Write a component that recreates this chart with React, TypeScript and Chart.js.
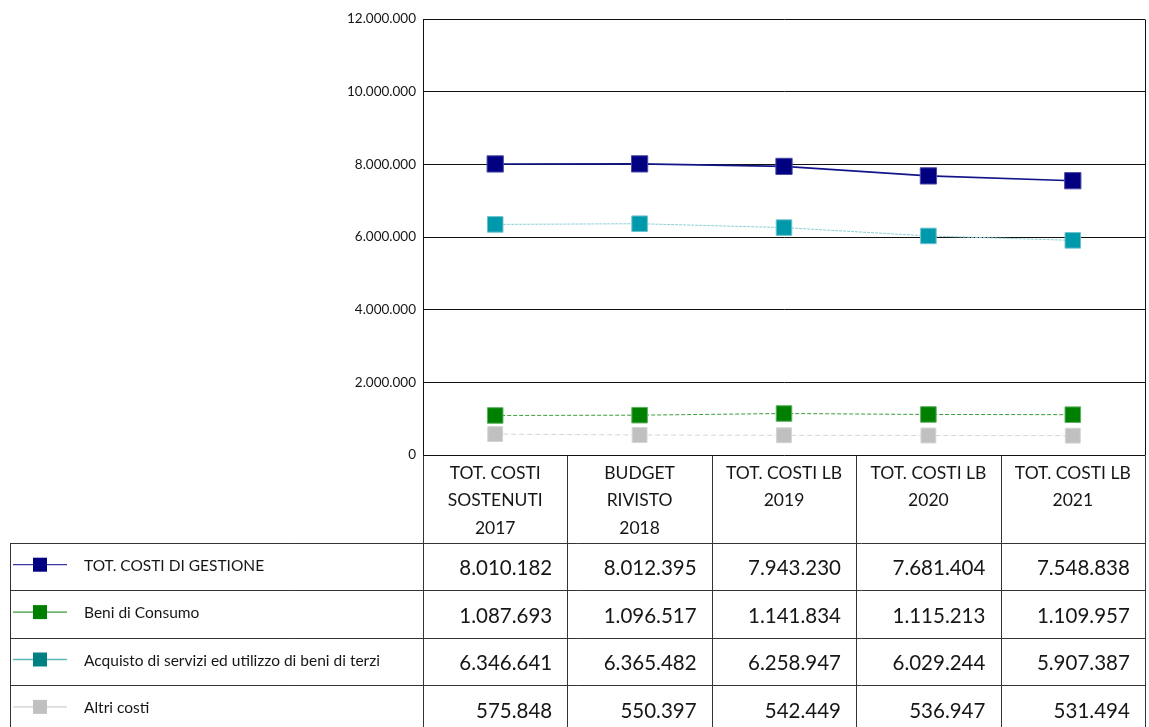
import React, { useEffect, useRef } from "react";
import { Chart, registerables } from "chart.js";

Chart.register(...registerables);

const categories: string[][] = [
  ["TOT. COSTI", "SOSTENUTI", "2017"],
  ["BUDGET", "RIVISTO", "2018"],
  ["TOT. COSTI LB", "2019"],
  ["TOT. COSTI LB", "2020"],
  ["TOT. COSTI LB", "2021"],
];
const seriesNames = [
  "TOT. COSTI DI GESTIONE",
  "Beni di Consumo",
  "Acquisto di servizi ed utilizzo di beni di terzi",
  "Altri costi",
];
const totCostiGestione = [8010182, 8012395, 7943230, 7681404, 7548838];
const beniDiConsumo = [1087693, 1096517, 1141834, 1115213, 1109957];
const acquistoServizi = [6346641, 6365482, 6258947, 6029244, 5907387];
const altriCosti = [575848, 550397, 542449, 536947, 531494];
const yMin = 0;
const yMax = 12000000;
const yStep = 2000000;

const fmt = (v: number) =>
  String(Math.round(v)).replace(/\B(?=(\d{3})+(?!\d))/g, ".");

const FONT = "Lato";
const INK = "#161616";

const legendColors = ["#000080", "#008000", "#008080", "#c0c0c0"];
const legendLineColors = ["#3a3aa8", "#3a9a3a", "#5fb8b8", "#cfcfcf"];

const tablePlugin = {
  id: "tablePlugin",
  afterDraw(chart: any) {
    const { ctx, chartArea, scales } = chart;
    const x = scales.x;
    const H = chart.height;
    const px = categories.map((_, i) => x.getPixelForValue(i));
    const bounds = [
      chartArea.left,
      ...px.slice(0, -1).map((p: number, i: number) => (p + px[i + 1]) / 2),
      chartArea.right,
    ];
    const headerTop = chartArea.bottom;
    const headerH = 88;
    const rowH = 47.4;
    const tableLeft = 10;
    const al = (v: number) => Math.round(v) + 0.5;

    ctx.save();
    ctx.strokeStyle = "#111";
    ctx.lineWidth = 1;
    ctx.beginPath();
    ctx.moveTo(al(chartArea.right), al(chartArea.top));
    ctx.lineTo(al(chartArea.right), al(chartArea.bottom));
    ctx.stroke();

    ctx.strokeStyle = "#333";
    ctx.beginPath();
    bounds.forEach((b: number) => {
      ctx.moveTo(al(b), al(headerTop));
      ctx.lineTo(al(b), H);
    });
    const bodyTop = headerTop + headerH;
    for (let k = 0; k < seriesNames.length; k++) {
      const yy = al(bodyTop + k * rowH);
      ctx.moveTo(tableLeft, yy);
      ctx.lineTo(al(chartArea.right), yy);
    }
    ctx.moveTo(al(tableLeft), al(bodyTop));
    ctx.lineTo(al(tableLeft), H);
    ctx.stroke();

    ctx.fillStyle = INK;
    ctx.textAlign = "center";
    ctx.textBaseline = "middle";
    ctx.font = `17.5px ${FONT}`;
    categories.forEach((lines, i) => {
      lines.forEach((ln, j) => {
        ctx.fillText(ln, px[i], headerTop + 18 + j * 27.5);
      });
    });

    chart.data.datasets.forEach((ds: any, d: number) => {
      const top = bodyTop + d * rowH;
      const cy = top + rowH / 2;
      ctx.strokeStyle = legendLineColors[d];
      ctx.lineWidth = 1.3;
      ctx.beginPath();
      ctx.moveTo(13, cy - 2);
      ctx.lineTo(67, cy - 2);
      ctx.stroke();
      ctx.fillStyle = legendColors[d];
      ctx.fillRect(33, cy - 9, 14, 14);
      ctx.fillStyle = INK;
      ctx.textAlign = "left";
      ctx.font = `15.5px ${FONT}`;
      ctx.fillText(seriesNames[d], 84, cy - 1);
      ctx.textAlign = "right";
      ctx.font = `20.5px ${FONT}`;
      ds.data.forEach((v: number, i: number) => {
        ctx.fillText(fmt(v), px[i] + 57, cy + 2);
      });
    });
    ctx.restore();
  },
};

export default function App() {
  const ref = useRef<HTMLCanvasElement | null>(null);
  useEffect(() => {
    if (!ref.current) return;
    const chart = new Chart(ref.current, {
      type: "line",
      data: {
        labels: categories.map((c) => c.join(" ")),
        datasets: [
          {
            label: seriesNames[0],
            data: totCostiGestione,
            borderColor: "#14148a",
            borderWidth: 1.6,
            pointStyle: "rect",
            pointRadius: 11.5,
            pointBackgroundColor: "#000080",
            pointBorderColor: "#4a4aa8",
            pointBorderWidth: 1,
          },
          {
            label: seriesNames[1],
            data: beniDiConsumo,
            borderColor: "#3c9a3c",
            borderWidth: 1,
            borderDash: [4, 2],
            pointStyle: "rect",
            pointRadius: 11,
            pointBackgroundColor: "#008000",
            pointBorderColor: "#5fb05f",
            pointBorderWidth: 1,
          },
          {
            label: seriesNames[2],
            data: acquistoServizi,
            borderColor: "#8ccfd6",
            borderWidth: 1,
            borderDash: [3, 1],
            pointStyle: "rect",
            pointRadius: 11,
            pointBackgroundColor: "#0099ab",
            pointBorderColor: "#6cc2cc",
            pointBorderWidth: 1,
          },
          {
            label: seriesNames[3],
            data: altriCosti,
            borderColor: "#d4d4d4",
            borderWidth: 1,
            borderDash: [5, 3],
            pointStyle: "rect",
            pointRadius: 10.5,
            pointBackgroundColor: "#c0c0c0",
            pointBorderColor: "#d4d4d4",
            pointBorderWidth: 1,
          },
        ],
      },
      options: {
        animation: false,
        responsive: false,
        devicePixelRatio: 1,
        layout: { autoPadding: false, padding: { top: 19, right: 4, bottom: 272, left: 0 } },
        plugins: {
          legend: { display: false },
          tooltip: { enabled: false },
        },
        scales: {
          x: {
            type: "category",
            display: false,
            offset: true,
          },
          y: {
            min: yMin,
            max: yMax,
            ticks: {
              stepSize: yStep,
              padding: 7,
              color: INK,
              font: { family: FONT, size: 13.5 },
              callback: (v: any) => fmt(Number(v)),
            },
            grid: { color: "#111", lineWidth: 1, drawTicks: false },
            border: { display: true, color: "#111", width: 1 },
            afterFit: (scale: any) => {
              scale.width = 423;
            },
          },
        },
      },
      plugins: [tablePlugin],
    });
    return () => chart.destroy();
  }, []);
  return (
    <div style={{ position: "fixed", left: 0, top: 0, width: 1149, height: 727, background: "#fff" }}>
      <canvas ref={ref} width={1149} height={727} style={{ width: 1149, height: 727 }} />
    </div>
  );
}
